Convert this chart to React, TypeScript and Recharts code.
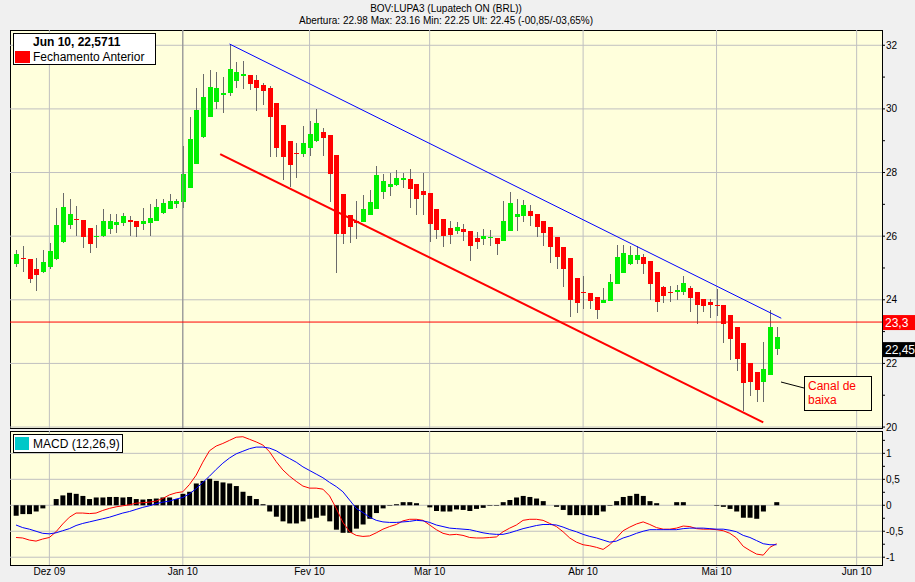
import React from 'react'
import {
  ComposedChart,
  Bar,
  Line,
  XAxis,
  YAxis,
  CartesianGrid,
  ReferenceLine,
} from 'recharts'

// eixo de tempo: um indice por pregao, 24/11/2009 = 0
const monthTicks = [5, 25, 44, 62, 85, 105, 126]
const monthLabels = ['Dez 09', 'Jan 10', 'Fev 10', 'Mar 10', 'Abr 10', 'Mai 10', 'Jun 10']
const priceTicks = [20, 21, 22, 23, 24, 25, 26, 27, 28, 29, 30, 31, 32]
const priceGrid = [20, 22, 24, 26, 28, 30, 32]
const macdTicks = [-1, -0.75, -0.5, -0.25, 0, 0.25, 0.5, 0.75, 1, 1.25]
const macdGrid = [-1, -0.5, 0, 0.5, 1]

const opens = [
  25.14, 25.3, 25.27, 24.96, 24.87, 25.02, 25.27, 25.82, 26.36, 26.54,
  26.51, 26.25, 25.99, 26.01, 26.23, 26.35, 26.42, 26.51, 26.47, 26.39,
  26.41, 26.49, 26.73, 26.86, 27.0, 27.07, 27.51, 28.26, 29.13, 29.76,
  30.23, 30.45, 30.49, 30.89, 31.03, 31.06, 30.92, 30.76, 30.66, 30.18,
  29.49, 28.98, 28.61, 28.59, 28.78, 28.99, 29.26, 29.18, 28.55, 27.32,
  26.67, 26.49, 26.43, 26.65, 26.84, 27.38, 27.54, 27.6, 27.75, 27.8,
  27.64, 27.42, 27.36, 26.86, 26.54, 26.26, 26.17, 26.23, 26.17, 25.95,
  25.91, 25.96, 25.95, 25.85, 26.17, 26.59, 26.64, 26.8, 26.7, 26.47,
  26.29, 25.98, 25.67, 25.32, 24.67, 24.25, 24.22, 24.09, 23.89, 23.97,
  24.51, 24.83, 25.14, 25.26, 25.35, 25.23, 24.88, 24.4, 24.26, 24.23,
  24.26, 24.38, 24.23, 24.01, 23.92, 23.85, 23.85, 23.53, 23.14, 22.64,
  22.01, 21.73, 21.42, 21.64, 22.45,
]
const highs = [
  25.58, 25.68, 25.27, 25.32, 25.56, 25.79, 26.89, 27.37, 27.18, 26.95,
  26.51, 26.25, 26.35, 26.85, 26.71, 26.71, 26.74, 26.63, 26.47, 26.87,
  27.02, 27.16, 27.16, 27.33, 27.16, 28.83, 29.73, 30.67, 31.09, 31.22,
  31.17, 31.01, 32.04, 31.47, 31.52, 31.06, 31.07, 30.8, 30.71, 30.18,
  29.49, 28.98, 28.94, 29.46, 29.62, 30.0, 29.39, 29.18, 28.55, 27.32,
  26.67, 27.09, 27.28, 27.44, 28.2, 27.95, 27.98, 28.09, 27.98, 28.12,
  27.64, 28.0, 27.36, 26.86, 26.54, 26.48, 26.45, 26.39, 26.17, 26.14,
  26.23, 26.18, 25.95, 27.09, 27.38, 27.17, 27.13, 26.98, 26.7, 26.47,
  26.29, 25.98, 25.67, 25.32, 24.67, 24.76, 24.22, 24.09, 24.36, 24.81,
  25.71, 25.71, 25.69, 25.69, 25.43, 25.23, 24.88, 24.43, 24.43, 24.48,
  24.76, 24.43, 24.23, 24.01, 24.01, 24.35, 23.85, 23.53, 23.14, 22.64,
  22.01, 21.73, 22.66, 23.68, 23.16,
]
const lows = [
  25.03, 24.87, 24.53, 24.27, 24.84, 24.98, 25.24, 25.79, 26.22, 26.0,
  25.63, 25.46, 25.63, 25.97, 26.08, 26.11, 26.32, 26.0, 25.98, 26.19,
  25.99, 26.47, 26.69, 26.86, 26.88, 26.88, 27.51, 28.26, 29.07, 29.73,
  30.0, 29.88, 30.39, 30.65, 30.63, 30.58, 29.92, 30.11, 28.49, 28.49,
  27.76, 27.53, 27.84, 28.49, 28.52, 28.96, 28.53, 27.07, 24.83, 25.74,
  25.78, 25.91, 26.43, 26.65, 26.84, 27.17, 27.27, 27.57, 27.5, 26.87,
  26.68, 26.68, 25.81, 25.91, 25.66, 25.76, 26.08, 25.84, 25.23, 25.6,
  25.73, 25.68, 25.42, 25.85, 26.17, 26.15, 26.45, 26.32, 25.97, 25.7,
  25.16, 24.98, 24.41, 23.47, 23.59, 23.7, 23.7, 23.41, 23.89, 23.97,
  24.51, 24.83, 25.09, 25.11, 24.81, 23.98, 23.61, 23.89, 23.93, 24.0,
  24.14, 23.61, 23.25, 23.61, 23.43, 23.48, 22.64, 22.11, 21.75, 20.5,
  20.99, 20.8, 20.8, 21.64, 22.25,
]
const closes = [
  25.45, 25.29, 24.65, 24.78, 25.18, 25.53, 26.35, 26.92, 26.71, 26.53,
  25.98, 25.76, 26.0, 26.47, 26.47, 26.44, 26.63, 26.44, 26.29, 26.47,
  26.58, 26.91, 27.03, 27.12, 27.09, 27.94, 29.05, 29.97, 30.38, 30.69,
  30.66, 30.5, 31.26, 31.16, 31.09, 30.78, 30.65, 30.55, 29.73, 28.78,
  28.49, 28.24, 28.6, 28.92, 29.21, 29.55, 29.09, 27.96, 26.07, 26.08,
  26.28, 26.41, 26.84, 27.06, 27.92, 27.72, 27.65, 27.84, 27.82, 27.49,
  27.18, 27.28, 26.37, 26.2, 25.99, 26.04, 26.29, 26.14, 25.7, 25.83,
  26.0, 25.97, 25.74, 26.48, 27.03, 26.7, 26.98, 26.62, 26.3, 26.11,
  25.65, 25.36, 24.98, 24.0, 23.89, 24.24, 23.96, 23.68, 24.0, 24.57,
  25.35, 25.46, 25.42, 25.42, 25.11, 24.51, 23.93, 24.11, 24.25, 24.32,
  24.54, 24.05, 23.83, 23.8, 23.83, 23.84, 23.23, 22.77, 22.15, 21.39,
  21.42, 21.15, 21.82, 23.14, 22.82,
]

// MACD (12,26,9)
const macdLine = [
  -0.62, -0.63, -0.67, -0.69, -0.65, -0.62, -0.51, -0.36, -0.23, -0.15,
  -0.15, -0.16, -0.15, -0.1, -0.06, -0.03, -0.01, 0.01, 0.04, 0.05,
  0.06, 0.08, 0.13, 0.2, 0.24, 0.26, 0.4, 0.58, 0.83, 1.05,
  1.14, 1.19, 1.25, 1.31, 1.32, 1.27, 1.22, 1.16, 1.03, 0.84,
  0.68, 0.56, 0.46, 0.37, 0.33, 0.33, 0.31, 0.18, -0.06, -0.33,
  -0.51, -0.58, -0.6, -0.59, -0.53, -0.46, -0.41, -0.37, -0.3, -0.27,
  -0.27, -0.29, -0.38, -0.47, -0.54, -0.57, -0.56, -0.58, -0.62, -0.63,
  -0.63, -0.62, -0.61, -0.51, -0.44, -0.38, -0.29, -0.27, -0.27, -0.29,
  -0.35, -0.41, -0.51, -0.63, -0.71, -0.76, -0.78, -0.81, -0.85, -0.76,
  -0.63, -0.49, -0.42, -0.36, -0.32, -0.37, -0.43, -0.46, -0.46, -0.44,
  -0.4, -0.41, -0.45, -0.46, -0.46, -0.47, -0.49, -0.54, -0.63, -0.79,
  -0.87, -0.94, -0.96, -0.81, -0.74,
]
const signalLine = [
  -0.38, -0.43, -0.46, -0.5, -0.54, -0.55, -0.53, -0.49, -0.45, -0.39,
  -0.35, -0.32, -0.29, -0.26, -0.23, -0.19, -0.15, -0.12, -0.08, -0.04,
  -0.01, 0.03, 0.06, 0.08, 0.12, 0.15, 0.22, 0.32, 0.44, 0.56,
  0.69, 0.81, 0.91, 0.99, 1.04, 1.09, 1.12, 1.12, 1.1, 1.05,
  0.97, 0.9, 0.83, 0.74, 0.67, 0.6, 0.53, 0.44, 0.36, 0.26,
  0.1, -0.06, -0.14, -0.23, -0.29, -0.32, -0.33, -0.33, -0.32, -0.31,
  -0.29, -0.3, -0.33, -0.38, -0.41, -0.44, -0.45, -0.46, -0.47, -0.5,
  -0.53, -0.55, -0.56, -0.56, -0.53, -0.49, -0.45, -0.42, -0.39, -0.37,
  -0.37, -0.38, -0.42, -0.47, -0.51, -0.56, -0.6, -0.63, -0.67, -0.71,
  -0.69, -0.63, -0.59, -0.54, -0.5, -0.47, -0.47, -0.47, -0.47, -0.47,
  -0.45, -0.44, -0.44, -0.44, -0.45, -0.46, -0.46, -0.48, -0.51, -0.58,
  -0.62, -0.68, -0.74, -0.76, -0.76,
]
const macdHist = [
  -0.2, -0.17, -0.17, -0.12, -0.06, 0, 0.12, 0.19, 0.24, 0.22,
  0.18, 0.12, 0.15, 0.15, 0.16, 0.16, 0.15, 0.16, 0.12, 0.11,
  0.12, 0.13, 0.15, 0.15, 0.12, 0.22, 0.26, 0.42, 0.47, 0.51,
  0.47, 0.44, 0.42, 0.37, 0.26, 0.18, 0.12, 0.02, -0.12, -0.22,
  -0.31, -0.35, -0.35, -0.31, -0.26, -0.24, -0.2, -0.31, -0.47, -0.53,
  -0.53, -0.45, -0.37, -0.26, -0.15, -0.06, -0.01, 0.02, 0.06, 0.06,
  0.04, 0, -0.04, -0.11, -0.12, -0.12, -0.08, -0.09, -0.11, -0.07,
  -0.05, -0.01, -0.01, 0.06, 0.1, 0.15, 0.18, 0.16, 0.13, 0.08,
  0, -0.03, -0.09, -0.19, -0.19, -0.19, -0.19, -0.19, -0.12, -0.01,
  0.08, 0.16, 0.18, 0.22, 0.18, 0.08, 0.04, 0, 0, 0.06,
  0.06, 0, 0, 0, 0, -0.01, -0.03, -0.07, -0.12, -0.24,
  -0.24, -0.26, -0.12, 0, 0.06,
]

// canal de baixa
const trendHigh = [{ x: 32, y: 32.04 }, { x: 114.7, y: 23.42 }]
const trendLow = [{ x: 30.6, y: 28.58 }, { x: 112, y: 20.15 }]
const prevClose = 23.3
const lastPrice = 22.45

const candles = opens.map((o, i) => ({
  i,
  open: o,
  high: highs[i],
  low: lows[i],
  close: closes[i],
}))
const macdData = macdLine.map((m, i) => ({
  i,
  macd: m,
  signal: signalLine[i],
  hist: macdHist[i],
}))

const X_DOMAIN = [-0.9, 129.8]
const UP = '#00F000'
const DOWN = '#FF0000'
const PLOT_BG = '#FFFFDC'
const GRID = '#C0C0C0'
const FONT = '"Liberation Sans", Arial, sans-serif'

function Candle(props: any) {
  const { x, y, width, height, payload } = props
  const { open, close, high, low } = payload
  const cx = Math.round(x + width / 2)
  const ppu = high === low ? 0 : height / (high - low)
  const yOf = (v: number) => y + (high - v) * ppu
  const top = Math.round(yOf(Math.max(open, close)))
  const bot = Math.round(yOf(Math.min(open, close)))
  return (
    <g shapeRendering="crispEdges">
      <line x1={cx + 0.5} x2={cx + 0.5} y1={y} y2={y + height} stroke="#6a6a6a" strokeWidth={1} />
      <rect x={cx - 2} y={top} width={5} height={Math.max(1, bot - top)} fill={close > open ? UP : DOWN} />
    </g>
  )
}

function PriceTag(props: any) {
  const { viewBox, text, bg } = props
  if (!viewBox) return null
  const x = viewBox.x + viewBox.width + 1
  const y = viewBox.y
  return (
    <g>
      <rect x={x} y={y - 7} width={33} height={15} fill={bg} />
      <text x={x + 2} y={y + 4.5} fill="#fff" fontSize={12} fontFamily={FONT}>
        {text}
      </text>
    </g>
  )
}

const priceFmt = (v: number) => (v % 2 === 0 ? String(v) : '')
const macdFmt = (v: number) =>
  Math.abs(v * 2 - Math.round(v * 2)) < 1e-9 ? String(v).replace('.', ',') : ''
const monthFmt = (v: number) => monthLabels[monthTicks.indexOf(v)] ?? ''

export default function App() {
  return (
    <div
      style={{
        position: 'absolute',
        left: 0,
        top: 0,
        width: 915,
        height: 582,
        background: '#F0F0F0',
        fontFamily: FONT,
        overflow: 'hidden',
      }}
    >
      {/* titulo */}
      <div
        style={{
          position: 'absolute',
          left: 0,
          top: 3,
          width: 892,
          textAlign: 'center',
          fontSize: 10,
          lineHeight: '12px',
          color: '#000',
        }}
      >
        BOV:LUPA3 (Lupatech ON (BRL))
        <br />
        Abertura: 22.98 Max: 23.16 Min: 22.25 Ult: 22.45 (-00,85/-03,65%)
      </div>

      {/* fundos dos paineis */}
      <div style={{ position: 'absolute', left: 10, top: 30, width: 873, height: 399, background: PLOT_BG, border: '1px solid #000', boxSizing: 'border-box' }} />
      <div style={{ position: 'absolute', left: 10, top: 431, width: 873, height: 135, background: PLOT_BG, border: '1px solid #000', boxSizing: 'border-box' }} />

      {/* painel de precos */}
      <div style={{ position: 'absolute', left: 0, top: 0 }}>
        <ComposedChart width={915} height={440} data={candles} margin={{ top: 30, right: 0, bottom: 12, left: 10 }}>
          <CartesianGrid stroke={GRID} horizontalValues={priceGrid} verticalValues={monthTicks} />
          <XAxis dataKey="i" type="number" domain={X_DOMAIN} allowDataOverflow hide />
          <YAxis
            yAxisId={0}
            orientation="right"
            domain={[19.97, 32.48]}
            allowDataOverflow
            ticks={priceTicks}
            interval={0}
            tickFormatter={priceFmt}
            width={33}
            axisLine={false}
            tickSize={3}
            tickMargin={1}
            tickLine={{ stroke: '#000' }}
            tick={{ fill: '#000', fontSize: 10 }}
          />
          <YAxis
            yAxisId="l"
            orientation="left"
            domain={[19.97, 32.48]}
            allowDataOverflow
            ticks={priceTicks}
            interval={0}
            tickFormatter={() => ''}
            width={0}
            mirror
            axisLine={false}
            tickSize={3}
            tickLine={{ stroke: '#000' }}
          />
          <ReferenceLine x={25} stroke="#8a8a8a" />
          <Bar
            dataKey={(d: any) => [d.low, d.high]}
            barSize={5}
            shape={<Candle />}
            isAnimationActive={false}
          />
          <ReferenceLine segment={trendHigh} stroke="#0000FF" strokeWidth={1} ifOverflow="visible" />
          <ReferenceLine segment={trendLow} stroke="#FF0000" strokeWidth={2} ifOverflow="visible" />
          <ReferenceLine
            y={prevClose}
            stroke="#FF0000"
            strokeWidth={1}
            label={<PriceTag text="23,3" bg="#FF0000" />}
          />
          <ReferenceLine
            y={lastPrice}
            stroke="none"
            label={<PriceTag text="22,45" bg="#000000" />}
          />
        </ComposedChart>
      </div>

      {/* painel MACD */}
      <div style={{ position: 'absolute', left: 0, top: 430 }}>
        <ComposedChart width={915} height={152} data={macdData} margin={{ top: 1, right: 0, bottom: 0, left: 10 }}>
          <CartesianGrid stroke={GRID} horizontalValues={macdGrid} verticalValues={monthTicks} />
          <XAxis
            dataKey="i"
            type="number"
            domain={X_DOMAIN}
            allowDataOverflow
            ticks={monthTicks}
            interval={0}
            tickFormatter={monthFmt}
            height={17}
            axisLine={false}
            tickLine={false}
            tickSize={0}
            tickMargin={3}
            tick={{ fill: '#000', fontSize: 10 }}
          />
          <YAxis
            yAxisId={0}
            orientation="right"
            domain={[-1.15, 1.43]}
            allowDataOverflow
            ticks={macdTicks}
            interval={0}
            tickFormatter={macdFmt}
            width={33}
            axisLine={false}
            tickSize={3}
            tickMargin={1}
            tickLine={{ stroke: '#000' }}
            tick={{ fill: '#000', fontSize: 10 }}
          />
          <YAxis
            yAxisId="l"
            orientation="left"
            domain={[-1.15, 1.43]}
            allowDataOverflow
            ticks={macdTicks}
            interval={0}
            tickFormatter={() => ''}
            width={0}
            mirror
            axisLine={false}
            tickSize={3}
            tickLine={{ stroke: '#000' }}
          />
          <Bar dataKey="hist" barSize={5} fill="#000" isAnimationActive={false} />
          <Line type="linear" dataKey="macd" stroke="#FF0000" strokeWidth={1} dot={false} isAnimationActive={false} />
          <Line type="linear" dataKey="signal" stroke="#0000FF" strokeWidth={1} dot={false} isAnimationActive={false} />
        </ComposedChart>
      </div>

      {/* legenda do preco */}
      <div style={{ position: 'absolute', left: 13, top: 33, width: 143, height: 32, background: '#fff', border: '1px solid #000', boxSizing: 'border-box' }}>
        <div style={{ position: 'absolute', left: 19, top: 1, fontSize: 12, fontWeight: 'bold', lineHeight: '14px' }}>Jun 10, 22,5711</div>
        <div style={{ position: 'absolute', left: 1, top: 17, width: 15, height: 12, background: '#FF0000' }} />
        <div style={{ position: 'absolute', left: 19, top: 16, fontSize: 12, lineHeight: '14px' }}>Fechamento Anterior</div>
      </div>

      {/* legenda do MACD */}
      <div style={{ position: 'absolute', left: 13, top: 434, width: 110, height: 19, background: '#fff', border: '1px solid #000', boxSizing: 'border-box' }}>
        <div style={{ position: 'absolute', left: 1, top: 2, width: 14, height: 13, background: '#00C8C8' }} />
        <div style={{ position: 'absolute', left: 19, top: 2, fontSize: 12, lineHeight: '14px' }}>MACD (12,26,9)</div>
      </div>

      {/* anotacao */}
      <svg style={{ position: 'absolute', left: 0, top: 0, pointerEvents: 'none' }} width={915} height={582}>
        <line x1={781} y1={382} x2={804} y2={388} stroke="#000" strokeWidth={1} />
      </svg>
      <div
        style={{
          position: 'absolute',
          left: 804,
          top: 376,
          width: 68,
          height: 35,
          background: PLOT_BG,
          border: '1px solid #000',
          boxSizing: 'border-box',
          color: '#FF0000',
          fontSize: 12,
          lineHeight: '14px',
          padding: '2px 0 0 3px',
        }}
      >
        Canal de
        <br />
        baixa
      </div>
    </div>
  )
}
